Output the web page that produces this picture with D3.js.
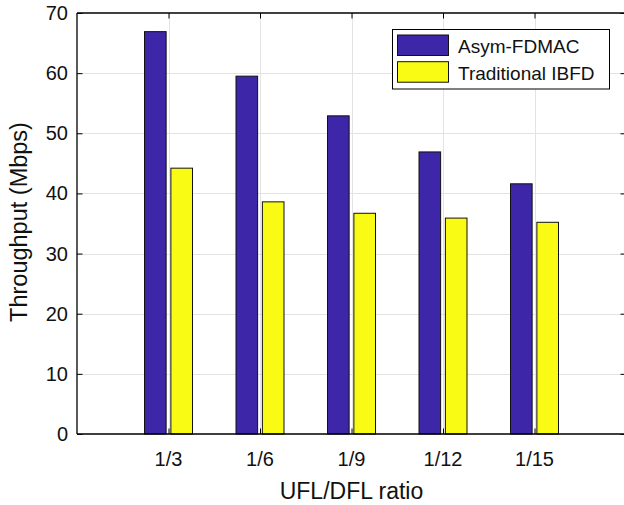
<!DOCTYPE html>
<html>
<head>
<meta charset="utf-8">
<script src="https://cdn.jsdelivr.net/npm/d3@7"></script>
<style>
  body { margin: 0; background: #fff; }
  svg { display: block; font-family: "Liberation Sans", Arial, Helvetica, sans-serif; }
</style>
</head>
<body>
<svg id="chart" width="624" height="505"></svg>
<script>
// Chart data
const categories = ['1/3', '1/6', '1/9', '1/12', '1/15'];
const seriesNames = ['Asym-FDMAC', 'Traditional IBFD'];
const asymFdmac = [66.9, 59.5, 52.9, 46.9, 41.6];
const traditionalIbfd = [44.2, 38.6, 36.7, 35.9, 35.2];
const yTicks = [0, 10, 20, 30, 40, 50, 60, 70];
const colors = ['#3e26a8', '#f9fb15'];

const svg = d3.select('#chart');
const margin = { left: 77, top: 13, right: 626, bottom: 434 };

const x = d3.scaleLinear().domain([0, categories.length + 1]).range([margin.left, margin.right]);
const y = d3.scaleLinear().domain([0, 70]).range([margin.bottom, margin.top]);
const xSub = d3.scaleBand().domain(seriesNames).range([-24, 24]).paddingInner(0.18);

const values = [asymFdmac, traditionalIbfd];
const rows = [];
categories.forEach((c, i) => {
	seriesNames.forEach((s, j) => {
		rows.push({ cat: c, pos: i + 1, series: s, j, value: values[j][i] });
	});
});

// Grid lines
const gGrid = svg.append('g').attr('stroke', '#e3e3e3').attr('stroke-width', 1);
gGrid.selectAll('line.hg').data(yTicks.slice(1, -1)).enter().append('line')
	.attr('x1', margin.left).attr('x2', margin.right)
	.attr('y1', d => Math.round(y(d)) + 0.5).attr('y2', d => Math.round(y(d)) + 0.5);
gGrid.selectAll('line.vg').data(categories).enter().append('line')
	.attr('x1', (d, i) => Math.round(x(i + 1)) + 0.5).attr('x2', (d, i) => Math.round(x(i + 1)) + 0.5)
	.attr('y1', margin.top).attr('y2', margin.bottom);

// Bars
svg.append('g').selectAll('rect').data(rows).enter().append('rect')
	.attr('x', d => x(d.pos) + xSub(d.series))
	.attr('width', xSub.bandwidth())
	.attr('y', d => y(d.value))
	.attr('height', d => y(0) - y(d.value))
	.attr('fill', d => colors[d.j])
	.attr('stroke', '#111')
	.attr('stroke-width', 1);

// Axes (box with inward ticks)
const tickLen = 5.5;
const xAxisB = d3.axisTop(x).tickValues(d3.range(1, categories.length + 1)).tickSize(tickLen).tickFormat('');
const xAxisT = d3.axisBottom(x).tickValues(d3.range(1, categories.length + 1)).tickSize(tickLen).tickFormat('');
const yAxisL = d3.axisRight(y).tickValues(yTicks).tickSize(tickLen).tickFormat('');
const yAxisR = d3.axisLeft(y).tickValues(yTicks).tickSize(tickLen).tickFormat('');

function styleAxis(g) {
	g.selectAll('path').attr('stroke', '#000').attr('stroke-width', 1.3);
	g.selectAll('line').attr('stroke', '#000').attr('stroke-width', 1);
}
svg.append('g').attr('transform', `translate(0,${margin.bottom})`).call(xAxisB).call(styleAxis)
	.select('path').attr('d', `M${margin.left},0H${margin.right}`);
svg.append('g').attr('transform', `translate(0,${margin.top})`).call(xAxisT).call(styleAxis)
	.select('path').attr('d', `M${margin.left},0H${margin.right}`);
svg.append('g').attr('transform', `translate(${margin.left},0)`).call(yAxisL).call(styleAxis)
	.select('path').attr('d', `M0,${margin.top}V${margin.bottom}`);
svg.append('g').attr('transform', `translate(${margin.right},0)`).call(yAxisR).call(styleAxis)
	.select('path').attr('d', `M0,${margin.top}V${margin.bottom}`);

// Tick labels
svg.append('g').selectAll('text').data(yTicks).enter().append('text')
	.attr('x', 68).attr('y', d => y(d) + 7)
	.attr('text-anchor', 'end').attr('font-size', 20).attr('fill', '#111')
	.text(d => d);
svg.append('g').selectAll('text').data(categories).enter().append('text')
	.attr('x', (d, i) => x(i + 1)).attr('y', 466)
	.attr('text-anchor', 'middle').attr('font-size', 20).attr('fill', '#111')
	.text(d => d);

// Axis titles
svg.append('text').attr('x', x(3)).attr('y', 499)
	.attr('text-anchor', 'middle').attr('font-size', 23).attr('fill', '#111')
	.text('UFL/DFL ratio');
svg.append('text').attr('transform', `translate(27,222) rotate(-90)`)
	.attr('text-anchor', 'middle').attr('font-size', 23.5).attr('fill', '#111')
	.text('Throughput (Mbps)');

// Legend
const legend = svg.append('g');
legend.append('rect').attr('x', 392.5).attr('y', 29.5).attr('width', 217).attr('height', 59.5)
	.attr('fill', '#fff').attr('stroke', '#000').attr('stroke-width', 1);
const items = legend.selectAll('g.item').data(seriesNames).enter().append('g')
	.attr('transform', (d, i) => `translate(0,${i * 26.7})`);
items.append('rect').attr('x', 397.5).attr('y', 35).attr('width', 51).attr('height', 20.5)
	.attr('fill', (d, i) => colors[i]).attr('stroke', '#111').attr('stroke-width', 1);
items.append('text').attr('x', 458).attr('y', 53.3).attr('font-size', 19).attr('fill', '#111')
	.text(d => d);
</script>
</body>
</html>
